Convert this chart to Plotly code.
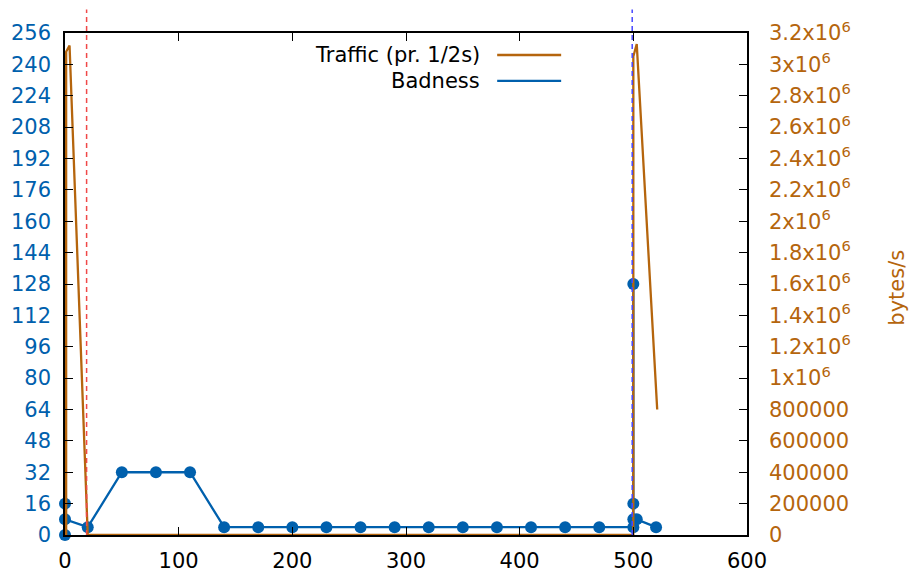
import plotly.graph_objects as go

# ---- data ----
bad_x = [0, 0, 0, 20, 50, 80, 110, 140, 170, 200, 230, 260, 290, 320, 350,
         380, 410, 440, 470, 500, 500, 500, 500, 503, 520]
bad_y = [0, 16, 8, 4, 32, 32, 32, 4, 4, 4, 4, 4, 4, 4, 4,
         4, 4, 4, 4, 4, 128, 16, 8, 8, 4]

traffic_x = [1, 1, 4, 20, 50, 80, 110, 140, 170, 200, 230, 260, 290, 320, 350,
             380, 410, 440, 470, 500, 500, 503, 521]
traffic_y = [0, 3.08e6, 3.12e6, 0, 0, 0, 0, 0, 0, 0, 0, 0, 0, 0, 0,
             0, 0, 0, 0, 0, 3.05e6, 3.13e6, 0.8e6]

event_red_x = 19
event_blue_x = 499

x_ticks = [0, 100, 200, 300, 400, 500, 600]
y_ticks = list(range(0, 257, 16))
y2_tickvals = [i * 200000 for i in range(17)]
y2_ticktext = ["0", "200000", "400000", "600000", "800000",
               "1x10<sup>6</sup>", "1.2x10<sup>6</sup>", "1.4x10<sup>6</sup>",
               "1.6x10<sup>6</sup>", "1.8x10<sup>6</sup>", "2x10<sup>6</sup>",
               "2.2x10<sup>6</sup>", "2.4x10<sup>6</sup>", "2.6x10<sup>6</sup>",
               "2.8x10<sup>6</sup>", "3x10<sup>6</sup>", "3.2x10<sup>6</sup>"]

legend_labels = ["Traffic (pr. 1/2s)", "Badness"]
y2_title = "bytes/s"

BLUE = "#0060ad"
ORANGE = "#b5650d"
FONT = "DejaVu Sans"
FS = 21

fig = go.Figure()
fig.add_trace(go.Scatter(x=traffic_x, y=traffic_y, mode="lines", yaxis="y2",
                         line=dict(color=ORANGE, width=2.3), cliponaxis=False,
                         name=legend_labels[0], showlegend=False))
fig.add_trace(go.Scatter(x=bad_x, y=bad_y, mode="lines+markers",
                         line=dict(color=BLUE, width=2.3),
                         marker=dict(color=BLUE, size=12, symbol="circle"),
                         cliponaxis=False, name=legend_labels[1], showlegend=False))

# vertical dashed event lines
fig.add_shape(type="line", xref="x", yref="paper", x0=event_red_x, x1=event_red_x,
              y0=0, y1=1.047, line=dict(color="#f04848", width=1.5, dash="5px,4px"))
fig.add_shape(type="line", xref="x", yref="paper", x0=event_blue_x, x1=event_blue_x,
              y0=0, y1=1.047, line=dict(color="#4848ff", width=1.5, dash="5px,4px"))

# manual gnuplot-style legend (text, then line sample)
fig.add_annotation(xref="paper", yref="paper", x=0.6117, y=0.956, xanchor="right",
                   yanchor="middle", text=legend_labels[0], showarrow=False,
                   font=dict(family=FONT, size=FS, color="black"))
fig.add_annotation(xref="paper", yref="paper", x=0.6117, y=0.9045, xanchor="right",
                   yanchor="middle", text=legend_labels[1], showarrow=False,
                   font=dict(family=FONT, size=FS, color="black"))
fig.add_shape(type="line", xref="paper", yref="paper", x0=0.6337, x1=0.7275,
              y0=0.9562, y1=0.9562, line=dict(color=ORANGE, width=2.3))
fig.add_shape(type="line", xref="paper", yref="paper", x0=0.6337, x1=0.7275,
              y0=0.9045, y1=0.9045, line=dict(color=BLUE, width=2.3))

fig.add_annotation(xref="paper", yref="paper", x=1.2198, y=0.4925, text=y2_title,
                   textangle=-90, showarrow=False, xanchor="center", yanchor="middle",
                   font=dict(family=FONT, size=FS, color=ORANGE))

fig.update_layout(
    width=909, height=574,
    margin=dict(l=64.5, r=162, t=33, b=38.5, autoexpand=False),
    plot_bgcolor="white", paper_bgcolor="white",
    font=dict(family=FONT, size=FS, color="black"),
    xaxis=dict(range=[0, 600], tickvals=x_ticks, ticks="inside", ticklen=8,
               tickcolor="black", showline=True, linecolor="black", linewidth=1.5,
               mirror="ticks", showgrid=False, zeroline=False, automargin=False,
               tickfont=dict(family=FONT, size=FS, color="black"),
               ticklabelstandoff=6),
    yaxis=dict(range=[0, 256], tickvals=y_ticks, ticks="inside", ticklen=8,
               tickcolor="black", showline=True, linecolor="black", linewidth=1.5,
               mirror=True, showgrid=False, zeroline=False, automargin=False,
               tickfont=dict(family=FONT, size=FS, color=BLUE),
               ticklabelstandoff=8),
    yaxis2=dict(range=[0, 3.2e6], tickvals=y2_tickvals, ticktext=y2_ticktext,
                overlaying="y", side="right", ticks="inside", ticklen=8,
                tickcolor="black", showline=True, linecolor="black", linewidth=1.5,
                showgrid=False, zeroline=False, automargin=False,
                tickfont=dict(family=FONT, size=FS, color=ORANGE),
                ticklabelstandoff=16),
)

fig.write_html("out.html")
